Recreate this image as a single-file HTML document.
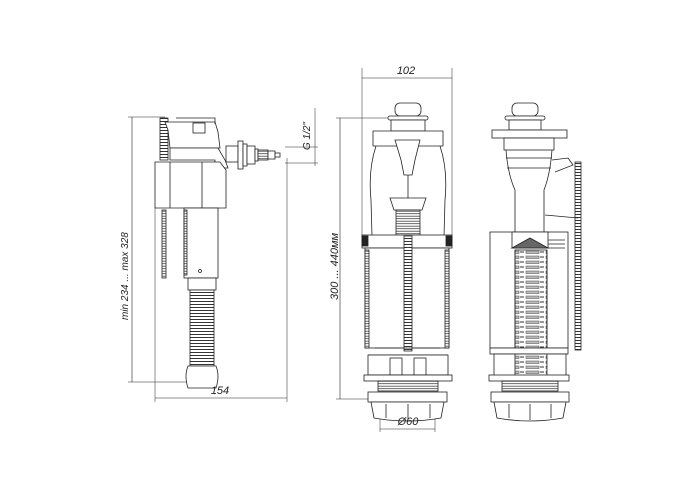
<!DOCTYPE html>
<html><head><meta charset="utf-8"><style>
html,body{margin:0;padding:0;background:#fff;width:700px;height:500px;overflow:hidden}
svg{display:block}
text{font-family:"Liberation Sans",sans-serif;font-style:italic;fill:#222}
</style></head><body>
<svg width="700" height="500" viewBox="0 0 700 500" xmlns="http://www.w3.org/2000/svg">
<defs>
<pattern id="hz" width="4" height="3" patternUnits="userSpaceOnUse"><rect width="4" height="3" fill="#fff"/><line x1="0" y1="1.5" x2="4" y2="1.5" stroke="#333" stroke-width="1"/></pattern>
<pattern id="hz2" width="4" height="2.5" patternUnits="userSpaceOnUse"><rect width="4" height="2.5" fill="#fff"/><line x1="0" y1="1.2" x2="4" y2="1.2" stroke="#444" stroke-width="0.8"/></pattern>
<pattern id="sc" width="20" height="5" patternUnits="userSpaceOnUse"><rect width="20" height="5" fill="#fff"/><rect x="6" y="1" width="13" height="2.5" fill="#bbb" stroke="#444" stroke-width="0.5"/><line x1="0" y1="2" x2="4" y2="2" stroke="#333" stroke-width="1"/></pattern>
</defs>
<g fill="none" stroke="#222" stroke-width="0.8">
<!-- LEFT VALVE -->
<!-- dims -->
<line x1="132" y1="117" x2="132" y2="382" stroke-width="0.6"/>
<line x1="128" y1="117" x2="165" y2="117" stroke-width="0.5"/>
<line x1="128" y1="382" x2="190" y2="382" stroke-width="0.5"/>
<line x1="155" y1="208" x2="155" y2="402" stroke-width="0.5"/>
<line x1="287" y1="158" x2="287" y2="402" stroke-width="0.5"/>
<line x1="155" y1="398" x2="287" y2="398" stroke-width="0.6"/>
<line x1="315" y1="108" x2="315" y2="166" stroke-width="0.5"/>
<line x1="285" y1="147" x2="318" y2="147" stroke-width="0.5"/>
<line x1="285" y1="163" x2="318" y2="163" stroke-width="0.5"/>
<!-- spring rod -->
<rect x="160" y="118" width="8" height="42" fill="url(#hz)"/>
<rect x="162" y="210" width="4" height="68" fill="url(#hz2)"/>
<!-- top mechanism -->
<path d="M165 122 L215 122 L218 132 L220 148 L170 148 L168 130 Z" fill="#fff"/>
<path d="M176 118 L215 118 L215 124" />
<rect x="193" y="123" width="12" height="10" fill="#fff"/>
<path d="M170 148 L218 148 L225 160 L228 168 L215 168 L215 160 L170 160 Z" fill="#fff"/>
<rect x="226" y="146" width="12" height="16" fill="#fff"/>
<rect x="238" y="141" width="5" height="28" fill="#fff"/>
<rect x="243" y="144" width="4" height="22" fill="#fff"/>
<rect x="247" y="146" width="8" height="18" fill="#fff"/>
<rect x="255" y="149" width="3" height="12" fill="#fff"/>
<rect x="258" y="150" width="10" height="10" fill="url(#hz2)"/>
<rect x="268" y="151" width="7" height="8" fill="#fff"/>
<rect x="275" y="153" width="5" height="4" fill="#fff"/>
<!-- body -->
<path d="M155 162 L220 162 L226 170 L226 208 L155 208 Z" fill="#fff"/>
<line x1="170" y1="162" x2="170" y2="208"/>
<line x1="202" y1="162" x2="202" y2="208"/>
<!-- tube -->
<rect x="184" y="208" width="34" height="70" fill="#fff"/>
<rect x="184" y="210" width="3" height="65" fill="url(#hz2)"/>
<circle cx="200" cy="271" r="1.5"/>
<rect x="188" y="278" width="28" height="12" fill="#fff"/>
<rect x="190" y="290" width="24" height="76" fill="url(#hz)"/>
<path d="M188 366 L216 366 Q220 376 216 388 L188 388 Q184 376 188 366 Z" fill="#fff"/>
<!-- RIGHT VALVE 1 -->
<line x1="362" y1="68" x2="362" y2="240" stroke-width="0.5"/>
<line x1="452" y1="68" x2="452" y2="240" stroke-width="0.5"/>
<line x1="362" y1="78" x2="452" y2="78" stroke-width="0.6"/>
<line x1="340" y1="118" x2="340" y2="399" stroke-width="0.6"/>
<line x1="336" y1="118" x2="388" y2="118" stroke-width="0.5"/>
<line x1="336" y1="399" x2="372" y2="399" stroke-width="0.5"/>
<line x1="380" y1="412" x2="380" y2="432" stroke-width="0.5"/>
<line x1="435" y1="412" x2="435" y2="432" stroke-width="0.5"/>
<line x1="380" y1="429" x2="435" y2="429" stroke-width="0.6"/>
<!-- button -->
<rect x="395" y="103" width="26" height="13" rx="5" fill="#fff"/>
<rect x="388" y="116" width="40" height="4" rx="2" fill="#fff"/>
<rect x="391" y="120" width="34" height="11" fill="#fff"/>
<!-- frame -->
<path d="M373 131 L443 131 L443 146 L373 146 Z" fill="#fff"/>
<path d="M376 146 Q368 170 371 200 L372 236 M440 146 Q448 170 445 200 L444 236"/>
<path d="M395 140 L420 140 L415 160 L412 175 L404 175 L401 160 Z" fill="#fff"/>
<line x1="408" y1="175" x2="408" y2="200"/>
<path d="M390 198 L426 198 L422 210 L394 210 Z" fill="#fff"/>
<rect x="396" y="210" width="24" height="26" fill="url(#hz2)"/>
<!-- band -->
<rect x="362" y="235" width="90" height="13" fill="#fff"/>
<rect x="362" y="236" width="6" height="10" fill="#222"/>
<rect x="446" y="236" width="6" height="10" fill="#222"/>
<!-- basket -->
<rect x="365" y="248" width="84" height="100" fill="#fff"/>
<rect x="365" y="250" width="4" height="98" fill="url(#hz2)"/>
<rect x="445" y="250" width="4" height="98" fill="url(#hz2)"/>
<rect x="404" y="236" width="8" height="115" fill="url(#hz)"/>
<path d="M375 348 L440 348 M368 355 L448 355" />
<rect x="368" y="355" width="80" height="20" fill="#fff"/>
<rect x="390" y="358" width="12" height="17"/><rect x="414" y="358" width="12" height="17"/>
<rect x="364" y="375" width="88" height="6" fill="#fff"/>
<rect x="378" y="381" width="60" height="10" fill="url(#hz2)"/>
<rect x="368" y="392" width="79" height="10" fill="#fff"/>
<path d="M371 402 L444 402 L441 418 Q408 424 374 418 Z" fill="#fff"/>
<line x1="386" y1="404" x2="386" y2="418"/><line x1="408" y1="404" x2="408" y2="420"/><line x1="430" y1="404" x2="430" y2="418"/>
<!-- RIGHT VALVE 2 -->
<rect x="512" y="103" width="26" height="13" rx="5" fill="#fff"/>
<rect x="505" y="116" width="40" height="4" rx="2" fill="#fff"/>
<rect x="509" y="120" width="32" height="10" fill="#fff"/>
<rect x="492" y="130" width="75" height="8" fill="#fff"/>
<rect x="504" y="138" width="50" height="12" fill="#fff"/>
<path d="M506 150 Q508 175 515 190 L515 235 M552 150 Q550 175 544 190 L544 235"/>
<line x1="506" y1="158" x2="552" y2="158"/><line x1="507" y1="168" x2="551" y2="168"/>
<path d="M552 160 L568 158 L573 165 L555 172" fill="#fff"/>
<rect x="575" y="162" width="6" height="188" fill="url(#hz)"/>
<path d="M545 215 L578 218"/>
<rect x="490" y="232" width="78" height="116" fill="#fff"/>
<rect x="512" y="232" width="36" height="16" fill="#fff"/>
<path d="M512 248 L530 238 L548 248 Z" fill="#666"/>
<rect x="515" y="250" width="32" height="125" fill="url(#sc)"/>
<line x1="515" y1="250" x2="515" y2="375"/><line x1="547" y1="250" x2="547" y2="375"/>
<path d="M548 240 L565 240 M548 244 L565 244 M548 248 L565 248"/>
<rect x="490" y="348" width="78" height="6" fill="#fff"/>
<rect x="494" y="354" width="72" height="22" fill="#fff"/>
<rect x="515" y="354" width="32" height="22" fill="url(#sc)"/>
<rect x="489" y="375" width="80" height="6" fill="#fff"/>
<rect x="502" y="381" width="56" height="10" fill="url(#hz2)"/>
<rect x="491" y="392" width="78" height="10" fill="#fff"/>
<path d="M494 402 L566 402 L563 418 Q530 424 497 418 Z" fill="#fff"/>
<line x1="509" y1="404" x2="509" y2="418"/><line x1="530" y1="404" x2="530" y2="420"/><line x1="551" y1="404" x2="551" y2="418"/>
</g>
<text x="220" y="394" font-size="11" text-anchor="middle">154</text>
<text transform="translate(128,320) rotate(-90)" font-size="10">min 234 ... max 328</text>
<text transform="translate(310,150) rotate(-90)" font-size="10">G 1/2"</text>
<text x="406" y="74" font-size="11" text-anchor="middle">102</text>
<text transform="translate(338,300) rotate(-90)" font-size="11">300 ... 440мм</text>
<text x="408" y="425" font-size="11" text-anchor="middle">Ø60</text>
</svg>
</body></html>
